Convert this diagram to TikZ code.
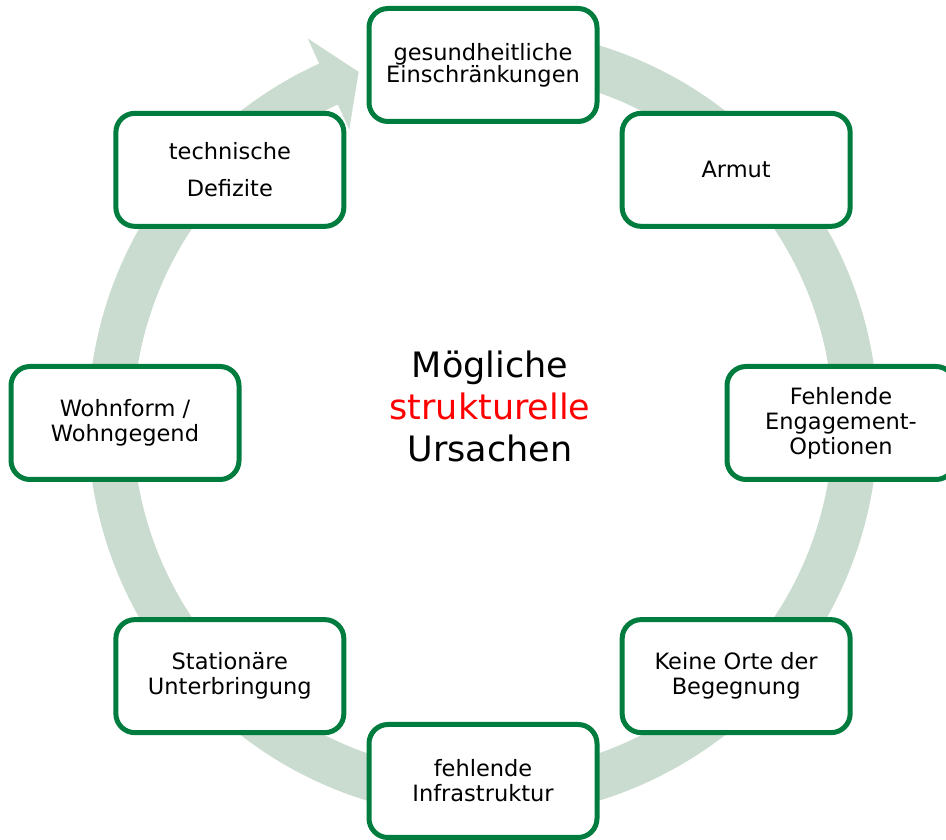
\documentclass[tikz,border=0pt]{standalone}
\usepackage{fontspec}
\setmainfont{DejaVu Sans}
\definecolor{ringgreen}{RGB}{202,220,208}
\definecolor{boxgreen}{RGB}{0,125,62}
\begin{document}
\begin{tikzpicture}[x=1pt,y=1pt,
  cause/.style={draw=boxgreen, line width=5pt, fill=white, rounded corners=19pt,
    minimum width=228pt, minimum height=113pt, inner sep=0pt, align=center,
    font=\fontsize{22.5}{25}\selectfont},
  tight/.style={font=\fontsize{22.5}{22}\selectfont},
  loose/.style={font=\fontsize{22.5}{36.5}\selectfont},
]
\useasboundingbox (0,0) rectangle (946,840);
\begin{scope}[shift={(483,417)}]
  % circular arrow running clockwise back to the top box
  \fill[ringgreen] (80:395) arc[start angle=80, end angle=-245.5, radius=395]
    -- (114.5:422.5) -- (109.5:372.5) -- (114.5:322.5) -- (114.5:350)
    arc[start angle=-245.5, end angle=80, radius=350] -- cycle;
  % the eight causes, every 45 degrees
  \node[cause, tight] (gesund) at (90:358) {gesundheitliche\\Einschränkungen};
  \node[cause] (armut) at (45:358) {Armut};
  \node[cause] (engage) at (0:358) {Fehlende\\Engagement-\\Optionen};
  \node[cause] (orte) at (-45:358) {Keine Orte der\\Begegnung};
  \node[cause] (infra) at (-90:358) {fehlende\\Infrastruktur};
  \node[cause] (station) at (-135:358) {Stationäre\\Unterbringung};
  \node[cause] (wohn) at (180:358) {Wohnform /\\Wohngegend};
  \node[cause, loose] (technik) at (135:358) {technische\\Defizite};
\end{scope}
\node[font=\fontsize{35}{42}\selectfont, align=center] (title) at (490,434)
  {Mögliche\\\textcolor{red}{strukturelle}\\Ursachen};
\end{tikzpicture}
\end{document}
